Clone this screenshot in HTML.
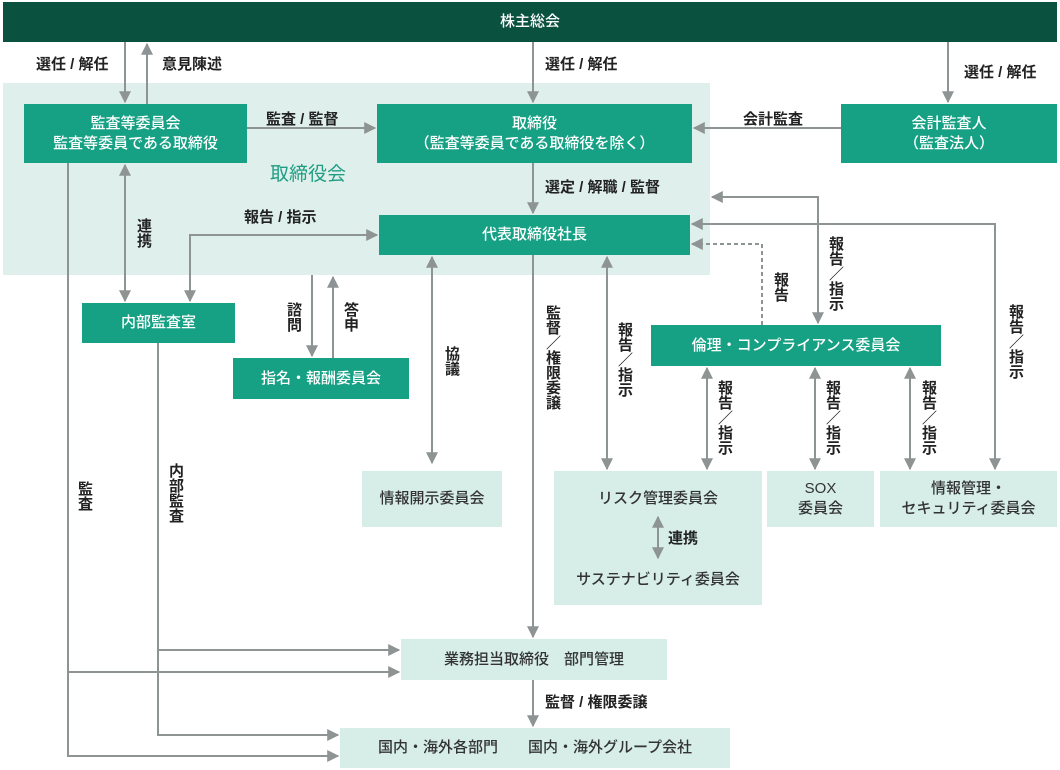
<!DOCTYPE html>
<html><head><meta charset="utf-8"><style>
body{margin:0;background:#fff;}
#c{position:relative;width:1060px;height:770px;overflow:hidden;font-family:"Liberation Sans","Noto Sans CJK JP",sans-serif;}
svg{position:absolute;left:0;top:0;}
.t{position:absolute;font-size:15px;font-weight:bold;color:#222;white-space:nowrap;line-height:17px;}
.v{writing-mode:vertical-rl;line-height:17px;}
.b{position:absolute;display:flex;align-items:center;justify-content:center;text-align:center;font-size:15px;line-height:20px;font-weight:500;}
.d{background:#16a084;color:#fff;}
.l{background:#d6ede8;color:#333;}
</style></head><body><div id="c">
<svg width="1060" height="770">
<defs><marker id="a" viewBox="0 0 10 10" refX="9" refY="5" markerWidth="6" markerHeight="6" orient="auto-start-reverse"><path d="M0,0L10,5L0,10z" fill="#8e9493"/></marker></defs>
<rect x="3" y="2" width="1054" height="40" fill="#0b5140"/>
<rect x="3" y="83" width="707" height="192" fill="#dff0ec"/>
<g stroke="#8e9493" stroke-width="2" fill="none">
<line x1="125" y1="42" x2="125" y2="102" marker-end="url(#a)"/>
<line x1="147" y1="104" x2="147" y2="44" marker-end="url(#a)"/>
<line x1="533" y1="42" x2="533" y2="102" marker-end="url(#a)"/>
<line x1="948" y1="42" x2="948" y2="102" marker-end="url(#a)"/>
<line x1="247" y1="128" x2="375" y2="128" marker-end="url(#a)"/>
<line x1="841" y1="128" x2="694" y2="128" marker-end="url(#a)"/>
<line x1="533" y1="163" x2="533" y2="213" marker-end="url(#a)"/>
<line x1="125" y1="165" x2="125" y2="301" marker-start="url(#a)" marker-end="url(#a)"/>
<polyline points="377,235 190,235 190,301" marker-start="url(#a)" marker-end="url(#a)"/>
<line x1="312" y1="275" x2="312" y2="356" marker-end="url(#a)"/>
<line x1="333" y1="358" x2="333" y2="277" marker-end="url(#a)"/>
<line x1="432" y1="257" x2="432" y2="463" marker-start="url(#a)" marker-end="url(#a)"/>
<line x1="533" y1="255" x2="533" y2="637" marker-end="url(#a)"/>
<line x1="607" y1="257" x2="607" y2="469" marker-start="url(#a)" marker-end="url(#a)"/>
<polyline points="712,197 818,197 818,323" marker-start="url(#a)" marker-end="url(#a)"/>
<polyline points="692,224 995,224 995,469" marker-start="url(#a)" marker-end="url(#a)"/>
<line x1="707" y1="368" x2="707" y2="469" marker-start="url(#a)" marker-end="url(#a)"/>
<line x1="815" y1="368" x2="815" y2="469" marker-start="url(#a)" marker-end="url(#a)"/>
<line x1="910" y1="368" x2="910" y2="469" marker-start="url(#a)" marker-end="url(#a)"/>
<line x1="533" y1="680" x2="533" y2="726" marker-end="url(#a)"/>
<polyline points="68,163 68,756 338,756" marker-end="url(#a)"/>
<line x1="68" y1="672" x2="399" y2="672" marker-end="url(#a)"/>
<polyline points="158,343 158,735 338,735" marker-end="url(#a)"/>
<line x1="158" y1="650" x2="399" y2="650" marker-end="url(#a)"/>
<polyline points="762,325 762,244 692,244" stroke-dasharray="4,3" marker-end="url(#a)"/>
</g>
</svg>
<div class="b" style="left:3px;top:2px;width:1054px;height:40px;color:#fff;">株主総会</div>
<div class="b d" style="left:24px;top:104px;width:223px;height:59px;">監査等委員会<br>監査等委員である取締役</div>
<div class="b d" style="left:377px;top:104px;width:315px;height:59px;">取締役<br>（監査等委員である取締役を除く）</div>
<div class="b d" style="left:841px;top:104px;width:216px;height:59px;">会計監査人<br>（監査法人）</div>
<div class="b d" style="left:379px;top:215px;width:311px;height:40px;">代表取締役社長</div>
<div class="t" style="left:270px;top:164px;font-size:19px;line-height:22px;color:#1f9c82;font-weight:normal;">取締役会</div>
<div class="b d" style="left:82px;top:303px;width:153px;height:40px;">内部監査室</div>
<div class="b d" style="left:233px;top:358px;width:176px;height:41px;">指名・報酬委員会</div>
<div class="b l" style="left:362px;top:471px;width:140px;height:56px;">情報開示委員会</div>
<div class="b d" style="left:651px;top:325px;width:290px;height:41px;">倫理・コンプライアンス委員会</div>
<div class="l" style="position:absolute;left:554px;top:471px;width:208px;height:134px;"></div>
<div class="b" style="left:554px;top:488px;width:208px;height:22px;color:#333;">リスク管理委員会</div>
<div class="b" style="left:554px;top:569px;width:208px;height:22px;color:#333;">サステナビリティ委員会</div>
<svg width="1060" height="770" style="pointer-events:none"><line x1="658" y1="517" x2="658" y2="558" stroke="#8e9493" stroke-width="2" marker-start="url(#a)" marker-end="url(#a)"/></svg>
<div class="t" style="left:668px;top:530px;">連携</div>
<div class="b l" style="left:767px;top:471px;width:107px;height:56px;">SOX<br>委員会</div>
<div class="b l" style="left:880px;top:471px;width:177px;height:56px;">情報管理・<br>セキュリティ委員会</div>
<div class="b l" style="left:401px;top:639px;width:266px;height:41px;">業務担当取締役　部門管理</div>
<div class="b l" style="left:340px;top:728px;width:390px;height:40px;">国内・海外各部門　　国内・海外グループ会社</div>
<div class="t" style="left:36px;top:56px;">選任 / 解任</div>
<div class="t" style="left:162px;top:56px;">意見陳述</div>
<div class="t" style="left:545px;top:56px;">選任 / 解任</div>
<div class="t" style="left:964px;top:64px;">選任 / 解任</div>
<div class="t" style="left:266px;top:111px;">監査 / 監督</div>
<div class="t" style="left:743px;top:111px;">会計監査</div>
<div class="t" style="left:545px;top:179px;">選定 / 解職 / 監督</div>
<div class="t" style="left:244px;top:209px;">報告 / 指示</div>
<div class="t v" style="left:135px;top:218px;">連携</div>
<div class="t v" style="left:285px;top:302px;">諮問</div>
<div class="t v" style="left:342px;top:302px;">答申</div>
<div class="t v" style="left:443px;top:346px;">協議</div>
<div class="t v" style="left:544px;top:305px;">監督／権限委譲</div>
<div class="t v" style="left:616px;top:322px;">報告／指示</div>
<div class="t v" style="left:772px;top:272px;">報告</div>
<div class="t v" style="left:827px;top:236px;">報告／指示</div>
<div class="t v" style="left:1007px;top:304px;">報告／指示</div>
<div class="t v" style="left:716px;top:380px;">報告／指示</div>
<div class="t v" style="left:824px;top:380px;">報告／指示</div>
<div class="t v" style="left:920px;top:380px;">報告／指示</div>
<div class="t v" style="left:76px;top:481px;">監査</div>
<div class="t v" style="left:167px;top:463px;">内部監査</div>
<div class="t" style="left:545px;top:694px;">監督 / 権限委譲</div>
</div></body></html>
